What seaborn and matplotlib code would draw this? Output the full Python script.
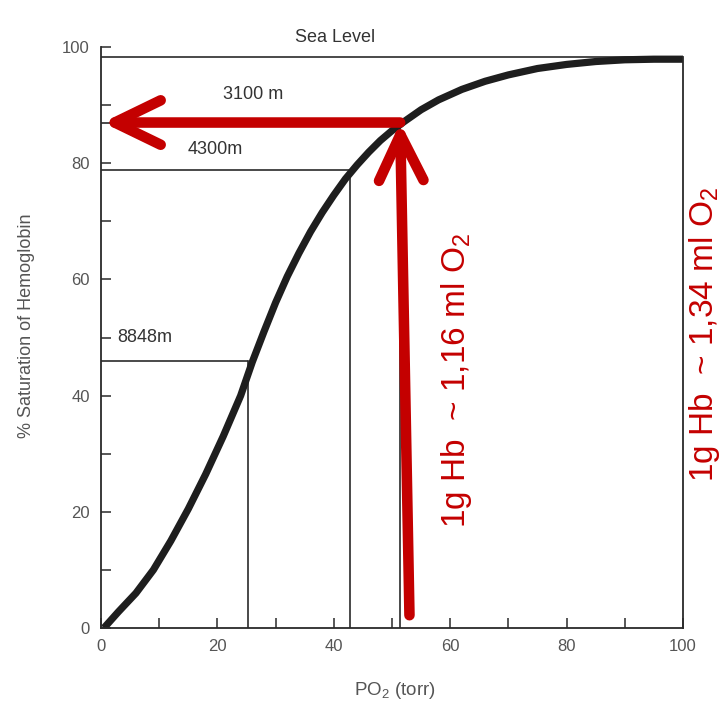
import matplotlib
matplotlib.use("Agg")
import matplotlib.pyplot as plt
from matplotlib.patches import FancyArrowPatch
import seaborn as sns
import pandas as pd

# ---- data ----
po2 = [0.5, 3, 6, 9, 12, 15, 18, 21, 24, 26, 28, 30, 32, 34, 36, 38, 40, 42,
       44, 46, 48, 50, 52, 55, 58, 62, 66, 70, 75, 80, 85, 90, 95, 100]
sat = [0, 2.8, 6, 10, 15, 20.5, 26.5, 33, 40, 45.8, 51, 56, 60.5, 64.5, 68.2,
       71.5, 74.5, 77.3, 79.7, 81.9, 83.9, 85.6, 87.1, 89.2, 90.9, 92.7, 94.1,
       95.2, 96.3, 97.0, 97.5, 97.8, 97.9, 97.9]

alt_names = ["Sea Level", "3100 m", "4300m", "8848m"]
alt_po2 = [100, 51.4, 42.8, 25.3]
alt_sat = [98.2, 87.0, 78.8, 45.9]
alt_label_x = [40.2, 26.1, 19.6, 7.6]
alt_label_y = [101.7, 91.9, 82.4, 50.0]

arrow_start = (53.0, 2.2)
arrow_corner = (51.4, 87.0)
arrow_end = (0.3, 87.0)

red_texts = ["1g Hb  ~ 1,16 ml O$_2$", "1g Hb  ~ 1,34 ml O$_2$"]

x_ticks = [0, 20, 40, 60, 80, 100]
y_ticks = [0, 20, 40, 60, 80, 100]

# ---- style ----
sns.set_style("ticks")
plt.rcParams["font.family"] = ["Liberation Sans", "DejaVu Sans"]
plt.rcParams["mathtext.fontset"] = "custom"
plt.rcParams["mathtext.rm"] = "Liberation Sans"
plt.rcParams["mathtext.it"] = "Liberation Sans"
plt.rcParams["mathtext.default"] = "regular"

RED = "#c40000"
INK = "#2a2a2a"
GRAY = "#555555"

fig = plt.figure(figsize=(7.25, 7.12), dpi=100)
ax = fig.add_axes([101 / 725, 1 - 628 / 712, 582 / 725, 581 / 712])

df = pd.DataFrame({"PO2": po2, "Sat": sat})
sns.lineplot(data=df, x="PO2", y="Sat", ax=ax, color="#1e1e1e", lw=5.2,
             sort=False, estimator=None)
ax.lines[-1].set_solid_capstyle("butt")
ax.lines[-1].set_solid_joinstyle("round")

# altitude reference lines
for name, px, py, lx, ly in zip(alt_names, alt_po2, alt_sat, alt_label_x, alt_label_y):
    ax.plot([0, px], [py, py], color=INK, lw=1.2, zorder=1)
    if px < 100:
        ax.plot([px, px], [0, py], color=INK, lw=1.2, zorder=1)
    ax.text(lx, ly, name, ha="center", va="center", fontsize=13,
            color="#333333", clip_on=False)

ax.set_xlim(0, 100)
ax.set_ylim(0, 100)
ax.set_xticks(x_ticks)
ax.set_yticks(y_ticks)
ax.set_xticks(range(10, 100, 10), minor=True)
ax.set_yticks(range(10, 100, 10), minor=True)
ax.tick_params(which="both", direction="in", length=7, width=1.1, color=INK,
               labelsize=12, labelcolor=GRAY)
ax.tick_params(axis="y", pad=8)
ax.tick_params(axis="x", pad=8)

for s in ["left", "bottom", "right"]:
    ax.spines[s].set_color(INK)
    ax.spines[s].set_linewidth(1.3)
ax.spines["top"].set_visible(False)
ax.spines["right"].set_visible(True)
ax.spines["right"].set_bounds(0, alt_sat[0])

ax.set_xlabel("PO$_2$ (torr)", fontsize=13.5, color=GRAY)
ax.set_ylabel("% Saturation of Hemoglobin", fontsize=13, color=GRAY)
ax.xaxis.set_label_coords(0.505, -0.09)
ax.yaxis.set_label_coords(-0.113, 0.52)

# red arrows
for a, b in [(arrow_start, arrow_corner), (arrow_corner, arrow_end)]:
    arr = FancyArrowPatch(a, b, arrowstyle="->,head_length=3.3,head_width=1.6",
                          mutation_scale=10, lw=7.6, color=RED, shrinkA=0,
                          shrinkB=0, capstyle="round", joinstyle="round",
                          zorder=5, clip_on=False)
    ax.add_patch(arr)

fig.text(457 / 725, 1 - 380 / 712, red_texts[0], rotation=90, ha="center",
         va="center", fontsize=24, color=RED)
fig.text(704 / 725, 1 - 334 / 712, red_texts[1], rotation=90, ha="center",
         va="center", fontsize=24, color=RED)

fig.savefig("out.png", dpi=100)
